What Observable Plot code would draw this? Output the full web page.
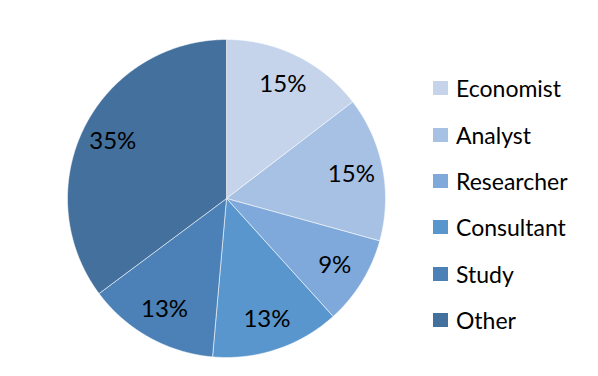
<!DOCTYPE html>
<html><head><meta charset="utf-8">
<script src="https://cdn.jsdelivr.net/npm/d3@7"></script>
<script src="https://cdn.jsdelivr.net/npm/@observablehq/plot@0.6"></script>
<style>
body{margin:0;background:#fff;}
#wrap{position:relative;width:598px;height:376px;font-family:Lato,"Open Sans",sans-serif;}
#legend{position:absolute;left:433px;top:65px;}
.item{display:flex;align-items:center;height:46.4px;font-size:23px;color:#000;}
.sw{width:15px;height:14px;margin-right:8px;}
</style></head><body><div id="wrap"></div>
<script>
const categories = ["Economist","Analyst","Researcher","Consultant","Study","Other"];
const shares = [14.6,14.7,9.0,13.1,13.4,35.2];
const colors = ["#c5d4ea","#a7c1e4","#7ea9da","#5996cd","#4b81b6","#43709d"];

const data = categories.map((c,i)=>({category:c, value:shares[i]}));
const arcs = d3.pie().sort(null).value(d=>d.value)(data);

const pts = [];
arcs.forEach(a=>{
  const c = a.data.category;
  pts.push({category:c, x:0, y:0});
  const n = Math.max(2, Math.ceil((a.endAngle-a.startAngle)/0.005));
  for(let k=0;k<=n;k++){
    const t = a.startAngle + (a.endAngle-a.startAngle)*k/n;
    pts.push({category:c, x:Math.sin(t), y:-Math.cos(t)});
  }
  pts.push({category:c, x:0, y:0});
});
const labels = arcs.map(a=>{
  const m=(a.startAngle+a.endAngle)/2;
  return {x:0.8*Math.sin(m), y:-0.8*Math.cos(m), text:Math.round(a.data.value)+"%"};
});

const chart = Plot.plot({
  width:598, height:376, margin:0,
  x:{domain:[-1,1], range:[67,385], axis:null},
  y:{domain:[-1,1], range:[39,357], axis:null},
  color:{domain:categories, range:colors},
  style:{fontFamily:'Lato,"Open Sans",sans-serif', background:"#fff"},
  marks:[
    Plot.line(pts,{x:"x", y:"y", z:"category", fill:"category", stroke:"#fff", strokeWidth:0.8, strokeOpacity:0.7}),
    Plot.text(labels,{x:"x", y:"y", text:"text", fontSize:24, fill:"#000"})
  ]
});
const wrap = document.getElementById("wrap");
wrap.appendChild(chart);
const leg = document.createElement("div");
leg.id="legend";
categories.forEach((c,i)=>{
  const it=document.createElement("div"); it.className="item";
  const sw=document.createElement("div"); sw.className="sw"; sw.style.background=colors[i];
  const tx=document.createElement("span"); tx.textContent=c;
  it.appendChild(sw); it.appendChild(tx); leg.appendChild(it);
});
wrap.appendChild(leg);
</script></body></html>
